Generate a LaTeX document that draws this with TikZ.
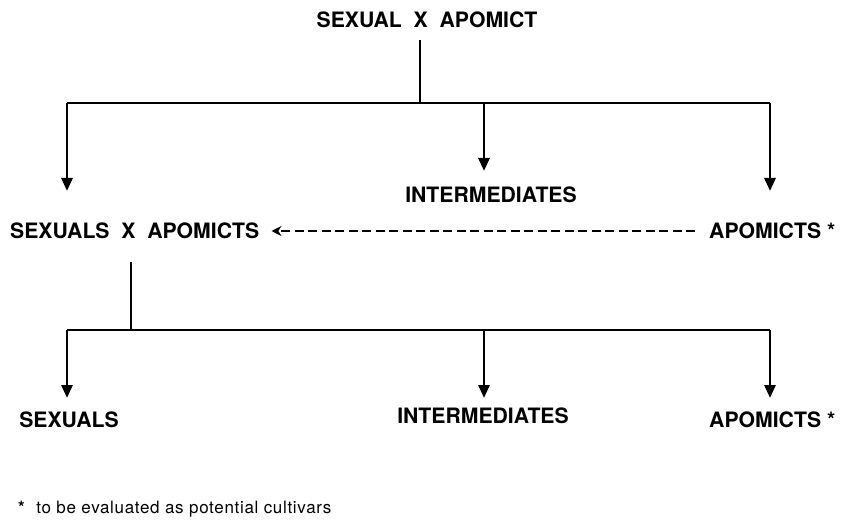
\documentclass[tikz,border=0pt]{standalone}
\usepackage{fontspec}
\setmainfont{TeX Gyre Heros}
\usetikzlibrary{arrows.meta}
\begin{document}
\begin{tikzpicture}[x=1pt,y=-1pt,
  lbl/.style={font=\fontsize{21.2}{25}\selectfont\bfseries, inner sep=0pt},
  conn/.style={line width=2.8pt},
  arr/.style={conn, -{Triangle[width=11pt,length=13pt]}},
  dasharr/.style={line width=2pt, dash pattern=on 9pt off 4.5pt, -{Stealth[width=10pt,length=10pt]}}]
\useasboundingbox (0,0) rectangle (841,532);
\fill[white] (0,0) rectangle (841,532);
% level 0
\node[lbl] (top) at (427,20) {SEXUAL\ \ X\ \ APOMICT};
\coordinate (t0) at (420,40);
\coordinate (tb) at (420,103);
\coordinate (tl) at (67,103);
\coordinate (tm) at (484,103);
\coordinate (tr) at (770,103);
\coordinate (el) at (67,191);
\coordinate (em) at (484,171);
\coordinate (er) at (770,191);
% level 1
\node[lbl] (int1) at (491,195) {INTERMEDIATES};
\node[lbl, anchor=west] (sxa) at (10,231) {SEXUALS\ \ X\ \ APOMICTS};
\node[lbl, anchor=west] (apo1) at (709,231) {APOMICTS *};
\coordinate (s0) at (131,262);
\coordinate (sb) at (131,330);
\coordinate (sl) at (67,330);
\coordinate (sm) at (484,330);
\coordinate (sr) at (770,330);
\coordinate (fl) at (67,398);
\coordinate (fm) at (484,398);
\coordinate (fr) at (770,398);
% level 2
\node[lbl] (sex2) at (69,420) {SEXUALS};
\node[lbl] (int2) at (483,416) {INTERMEDIATES};
\node[lbl, anchor=west] (apo2) at (709,420) {APOMICTS *};
% footnote
\node[anchor=west, inner sep=0pt, font=\fontsize{17}{20}\selectfont\addfontfeature{LetterSpace=4}] (note) at (18,509) {\textbf{*}\ \ to be evaluated as potential cultivars};
% connectors
\draw[conn] (t0) -- (tb);
\draw[conn] (tl) -- (tr);
\draw[arr] (tl) -- (el);
\draw[arr] (tm) -- (em);
\draw[arr] (tr) -- (er);
\draw[dasharr] ([xshift=-14pt]apo1.west) -- ([xshift=12pt]sxa.east);
\draw[conn] (s0) -- (sb);
\draw[conn] (sl) -- (sr);
\draw[arr] (sl) -- (fl);
\draw[arr] (sm) -- (fm);
\draw[arr] (sr) -- (fr);
\end{tikzpicture}
\end{document}
